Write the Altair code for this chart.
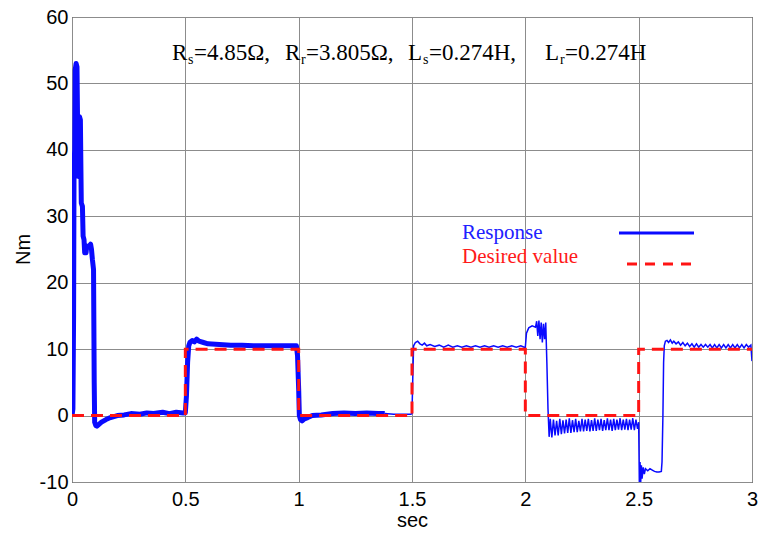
import altair as alt
import pandas as pd

# ---------------- data ----------------
x_ticks = [0, 0.5, 1, 1.5, 2, 2.5, 3]
y_ticks = [-10, 0, 10, 20, 30, 40, 50, 60]

# desired torque (red dashed step profile)
desired_t = [0, 0.5, 0.5, 1.0, 1.0, 1.5, 1.5, 2.0, 2.0, 2.5, 2.5, 3.0]
desired_v = [0, 0, 10, 10, 0, 0, 10, 10, 0, 0, 10, 10]

# response, thick trace segment (0 - 1.38 s)
thick_t = [0, 0.004, 0.007, 0.009, 0.012, 0.014, 0.018, 0.022, 0.024, 0.026,
           0.028, 0.03, 0.033, 0.037, 0.039, 0.041, 0.046, 0.049, 0.053, 0.056,
           0.062, 0.065, 0.075, 0.082, 0.086, 0.09, 0.095, 0.098, 0.1, 0.105,
           0.11, 0.12, 0.13, 0.15, 0.17, 0.2, 0.23, 0.26, 0.3, 0.33,
           0.36, 0.4, 0.43, 0.46, 0.49, 0.5, 0.505, 0.51, 0.515, 0.52,
           0.53, 0.54, 0.55, 0.56, 0.58, 0.6, 0.65, 0.7, 0.75, 0.8,
           0.85, 0.9, 0.95, 0.99, 0.995, 1.0, 1.003, 1.008, 1.015, 1.025,
           1.04, 1.06, 1.1, 1.15, 1.2, 1.25, 1.3, 1.35, 1.38]
thick_v = [0, 1, 15, 38, 40, 52, 53, 52.5, 46, 38,
           36, 42, 45, 44.5, 38, 32, 31.5, 27, 26.5, 24.5,
           24.5, 25.5, 25.5, 25.8, 25, 23.5, 22, 5, -1, -1.5,
           -1.6, -1.3, -1, -0.6, -0.3, 0, 0.1, 0.3, 0.2, 0.4,
           0.3, 0.5, 0.3, 0.5, 0.4, 0.4, 3, 8, 10.5, 11,
           11.3, 11.1, 11.5, 11.2, 11, 10.8, 10.7, 10.6, 10.6, 10.5,
           10.5, 10.5, 10.5, 10.5, 9, 4, 0, -0.6, -0.8, -0.5,
           -0.3, 0, 0.1, 0.3, 0.4, 0.3, 0.4, 0.3, 0.3]

# response, thin trace (1.38 - 2.105 s)
mid_t = [1.38, 1.42, 1.46, 1.495, 1.5, 1.503, 1.507, 1.515, 1.525, 1.535,
         1.545, 1.555, 1.565, 1.58, 1.6, 1.62, 1.64, 1.66, 1.68, 1.7,
         1.72, 1.74, 1.76, 1.78, 1.8, 1.82, 1.84, 1.86, 1.88, 1.9,
         1.92, 1.94, 1.96, 1.98, 1.995, 2.0, 2.005, 2.015, 2.03, 2.045,
         2.05, 2.055, 2.06, 2.065, 2.07, 2.075, 2.08, 2.085, 2.09, 2.095,
         2.1, 2.105]
mid_v = [0.3, 0.2, 0.2, 0.2, 0.3, 5, 10.5, 11, 11.2, 10.8,
         10.6, 10.9, 10.5, 10.7, 10.4, 10.6, 10.3, 10.6, 10.3, 10.5,
         10.3, 10.5, 10.3, 10.5, 10.3, 10.5, 10.3, 10.5, 10.3, 10.5,
         10.3, 10.5, 10.3, 10.5, 10.3, 10.3, 12.4, 13.2, 13.5, 13.3,
         14.2, 12, 14.3, 11.5, 14.0, 11, 13.8, 11.5, 14, 8,
         1, -3.2]

# response, oscillating part (2.11 - 2.5 s)
osc_t = [2.11, 2.117, 2.124, 2.131, 2.138, 2.145, 2.152, 2.159, 2.166, 2.173,
         2.18, 2.187, 2.194, 2.201, 2.208, 2.215, 2.222, 2.229, 2.236, 2.243,
         2.25, 2.257, 2.264, 2.271, 2.278, 2.285, 2.292, 2.299, 2.306, 2.313,
         2.32, 2.327, 2.334, 2.341, 2.348, 2.355, 2.362, 2.369, 2.376, 2.383,
         2.39, 2.397, 2.404, 2.411, 2.418, 2.425, 2.432, 2.439, 2.446, 2.453,
         2.46, 2.467, 2.474, 2.481, 2.488, 2.495, 2.5]
osc_v = [-0.5, -3.3, -0.6, -3.0, -0.8, -3.0, -0.5, -2.8, -0.7, -2.7,
         -0.6, -2.6, -0.4, -2.6, -0.7, -2.5, -0.5, -2.5, -0.8, -2.4,
         -0.5, -2.4, -0.6, -2.3, -0.5, -2.4, -0.7, -2.3, -0.4, -2.3,
         -0.6, -2.2, -0.5, -2.3, -0.7, -2.2, -0.4, -2.2, -0.6, -2.3,
         -0.5, -2.2, -0.6, -2.1, -0.4, -2.2, -0.6, -2.1, -0.5, -2.2,
         -0.6, -2.1, -0.4, -2.2, -0.6, -2.0, -1.0]

# response, last part (2.5 - 3 s)
tail_t = [2.503, 2.506, 2.509, 2.512, 2.515, 2.52, 2.525, 2.53, 2.54, 2.55,
          2.56, 2.57, 2.58, 2.59, 2.6, 2.603, 2.607, 2.61, 2.613, 2.618,
          2.625, 2.632, 2.64, 2.648, 2.655, 2.665, 2.675, 2.685, 2.695, 2.705,
          2.715, 2.725, 2.735, 2.745, 2.755, 2.765, 2.775, 2.785, 2.795, 2.805,
          2.815, 2.825, 2.835, 2.845, 2.855, 2.865, 2.875, 2.885, 2.895, 2.905,
          2.915, 2.925, 2.935, 2.945, 2.955, 2.965, 2.975, 2.985, 2.995, 3.0]
tail_v = [-10.3, -7, -10, -7.5, -9.5, -7.8, -8.8, -8, -8.3, -8,
          -8.2, -8.4, -8.5, -8.5, -8.4, -7, 0, 8, 10.5, 11.2,
          11.3, 11, 11.4, 10.9, 11.2, 10.8, 11.1, 10.6, 11.0, 10.5,
          10.9, 10.4, 10.8, 10.3, 10.8, 10.3, 10.7, 10.3, 10.7, 10.3,
          10.7, 10.2, 10.7, 10.2, 10.7, 10.2, 10.7, 10.2, 10.7, 10.2,
          10.7, 10.2, 10.7, 10.2, 10.7, 10.2, 10.7, 10.3, 10.6, 8.2]

legend_labels = ["Response", "Desired value"]
annotation_parts = ["R", "s", "=4.85Ω,", "R", "r", "=3.805Ω,",
                    "L", "s", "=0.274H,", "L", "r", "=0.274H"]

# ---------------- styling ----------------
BLUE = "#0a0aff"
RED = "#ff1414"
SANS = "Liberation Sans"
SERIF = "Liberation Serif"
LABEL_EXPR = "'' + datum.value"


def frame(t, v):
    return pd.DataFrame({"t": t, "v": v, "i": list(range(len(t)))})


thick_df = frame(thick_t, thick_v)
thin_df = frame(mid_t + osc_t + tail_t, mid_v + osc_v + tail_v)
des_df = frame(desired_t, desired_v)
one = pd.DataFrame({"a": [0]})

X = alt.X("t:Q",
          scale=alt.Scale(domain=[0, 3], nice=False, zero=False),
          axis=alt.Axis(values=x_ticks, labelExpr=LABEL_EXPR, title="sec",
                        grid=True, gridColor="#8c8c8c", gridWidth=1,
                        ticks=False, domain=False, labelFlush=False,
                        labelOverlap=False,
                        labelFont=SANS, labelFontSize=20, labelColor="black",
                        labelPadding=7,
                        titleFont=SANS, titleFontSize=20, titleFontWeight="normal",
                        titleColor="black", titleX=340, titleY=44,
                        titleBaseline="alphabetic", titleAlign="center"))
Y = alt.Y("v:Q",
          scale=alt.Scale(domain=[-10, 60], nice=False, zero=False),
          axis=alt.Axis(values=y_ticks, labelExpr=LABEL_EXPR, title="Nm",
                        grid=True, gridColor="#8c8c8c", gridWidth=1,
                        ticks=False, domain=False, labelFlush=False,
                        labelOverlap=False,
                        labelFont=SANS, labelFontSize=20, labelColor="black",
                        labelPadding=4,
                        titleFont=SANS, titleFontSize=20, titleFontWeight="normal",
                        titleColor="black", titleX=-43, titleY=232,
                        titleAngle=270, titleBaseline="alphabetic",
                        titleAlign="center"))

thick = alt.Chart(thick_df).mark_line(
    color=BLUE, strokeWidth=5, clip=True, strokeJoin="round"
).encode(x=X, y=Y, order="i:Q")

thin = alt.Chart(thin_df).mark_line(
    color=BLUE, strokeWidth=1.5, clip=True
).encode(x=X, y=Y, order="i:Q")

desired = alt.Chart(des_df).mark_line(
    color=RED, strokeWidth=3, strokeDash=[12, 7], clip=True
).encode(x=X, y=Y, order="i:Q")

# legend (pixel positions inside the plot area)
leg_blue = alt.Chart(one).mark_rule(color=BLUE, strokeWidth=3).encode(
    x=alt.value(547), x2=alt.value(622), y=alt.value(216))
leg_red = alt.Chart(one).mark_rule(color=RED, strokeWidth=3, strokeDash=[10, 8]).encode(
    x=alt.value(555), x2=alt.value(622), y=alt.value(247))
leg_t1 = alt.Chart(one).mark_text(
    font=SERIF, fontSize=21, color="#2020ff", align="left", baseline="alphabetic"
).encode(x=alt.value(390), y=alt.value(222), text=alt.value(legend_labels[0]))
leg_t2 = alt.Chart(one).mark_text(
    font=SERIF, fontSize=21, color="#ff1a1a", align="left", baseline="alphabetic"
).encode(x=alt.value(390), y=alt.value(246), text=alt.value(legend_labels[1]))

# parameter annotation with subscripts
ann_x = [100, 116, 122, 213, 229, 234, 336, 351, 357, 473, 488, 493]
ann_sub = [False, True, False, False, True, False, False, True, False, False, True, False]
ann_layers = []
for txt, xx, sub in zip(annotation_parts, ann_x, ann_sub):
    ann_layers.append(
        alt.Chart(one).mark_text(
            font=SERIF, fontSize=14 if sub else 23, color="black",
            align="left", baseline="alphabetic"
        ).encode(x=alt.value(xx), y=alt.value(47 if sub else 43), text=alt.value(txt))
    )

chart = alt.layer(
    thick, thin, desired, leg_blue, leg_red, leg_t1, leg_t2, *ann_layers
).properties(
    width=680, height=465,
    padding={"left": 72, "top": 17, "right": 9, "bottom": 51},
    autosize=alt.AutoSizeParams(type="none"),
    background="white",
).configure_view(stroke="black", strokeWidth=1)

chart.save("out.html", embed_options={"renderer": "svg", "actions": False})
